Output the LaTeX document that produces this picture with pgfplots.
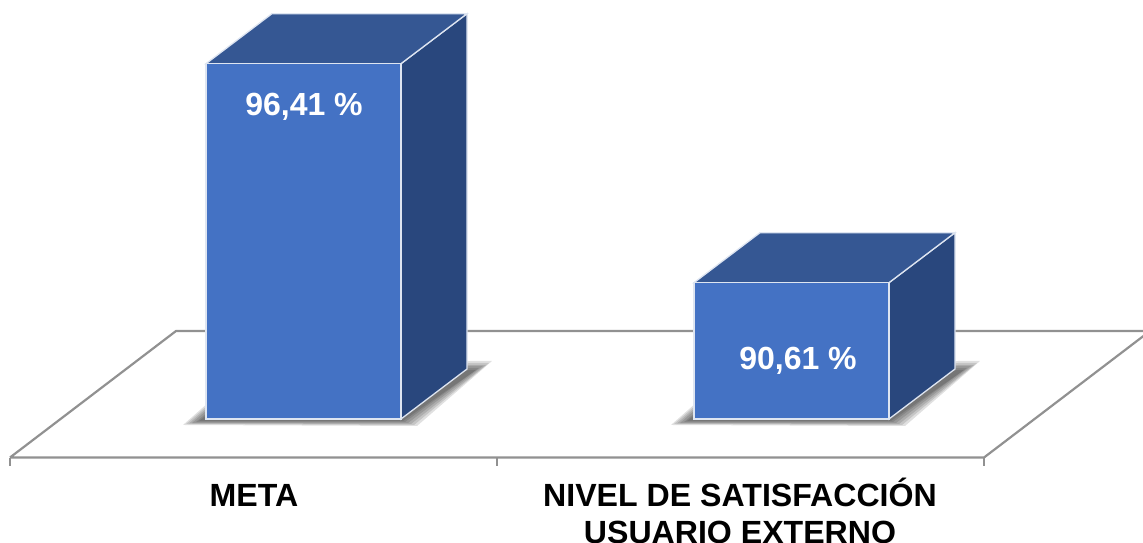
\documentclass[border=0pt]{standalone}
\usepackage{pgfplots}
\pgfplotsset{compat=1.18}
\usepackage{fontspec}
\setmainfont{Liberation Sans}
\definecolor{barfront}{RGB}{68,114,196}
\definecolor{bartop}{RGB}{53,87,147}
\definecolor{barside}{RGB}{41,71,125}
\definecolor{baredge}{RGB}{222,229,241}
\definecolor{floorline}{RGB}{145,145,145}

% Floor of the boxes sits at 87; their depth is 66 horizontally and 1.324 vertically
\pgfplotsset{
  floor/.style={draw=floorline, line width=2.2bp, forget plot},
  face/.style={draw=baredge, line width=1.3bp, line join=miter, forget plot},
  castshadow/.style={draw=none, fill=black, fill opacity=0.12, forget plot,
    y filter/.expression={87+(419-y)/37.76}},
}

% Soft shadow on the floor, built from nested layers (x and distance from top)
\pgfplotstableread{
x y
183 425
208 403
470 361
492 361
417 426
}\shadowA
\pgfplotstableread{
x y
186 424
208 405
470 363
489 363
414 425
}\shadowB
\pgfplotstableread{
x y
189 423.5
208 407
470 365
486 365
411 424
}\shadowC
\pgfplotstableread{
x y
192 423
208 409
470 366
483 366
408 423
}\shadowD
\pgfplotstableread{
x y
196 422
208 412
470 368
479 368
405 422
}\shadowE
\pgfplotstableread{
x y
199 421
208 414
470 370
476 370
403 421
}\shadowF

\begin{document}
\begin{tikzpicture}
\useasboundingbox (0,0) rectangle (1143bp,543bp);
\clip (0,0) rectangle (1143bp,543bp);
\begin{axis}[
  at={(0,0)}, anchor=south west,
  scale only axis, width=1143bp, height=543bp,
  xmin=0, xmax=1143,
  ymin=83.716, ymax=98.096,
  hide axis, clip=false,
]
% Floor outline and category ticks
\addplot[floor] coordinates {(10,85.98) (176,89.33) (1150,89.33) (984,85.98) (10,85.98)};
\addplot[floor, line width=1.6bp] coordinates {(10,85.98) (10,85.75)};
\addplot[floor, line width=1.6bp] coordinates {(497,85.98) (497,85.75)};
\addplot[floor, line width=1.6bp] coordinates {(984,85.98) (984,85.75)};

% Shadows of both boxes
\addplot[castshadow] table {\shadowA} -- cycle;
\addplot[castshadow] table {\shadowB} -- cycle;
\addplot[castshadow] table {\shadowC} -- cycle;
\addplot[castshadow] table {\shadowD} -- cycle;
\addplot[castshadow] table {\shadowE} -- cycle;
\addplot[castshadow] table {\shadowF} -- cycle;
\addplot[castshadow, x filter/.expression={x+488}] table {\shadowA} -- cycle;
\addplot[castshadow, x filter/.expression={x+488}] table {\shadowB} -- cycle;
\addplot[castshadow, x filter/.expression={x+488}] table {\shadowC} -- cycle;
\addplot[castshadow, x filter/.expression={x+488}] table {\shadowD} -- cycle;
\addplot[castshadow, x filter/.expression={x+488}] table {\shadowE} -- cycle;
\addplot[castshadow, x filter/.expression={x+488}] table {\shadowF} -- cycle;

% META: 96.41
\addplot[face, fill=barside] coordinates {(401,87) (467,88.324) (467,97.734) (401,96.41)} -- cycle;
\addplot[face, fill=bartop] coordinates {(206,96.41) (272,97.734) (467,97.734) (401,96.41)} -- cycle;
\addplot[face, fill=barfront] coordinates {(206,87) (401,87) (401,96.41) (206,96.41)} -- cycle;

% NIVEL DE SATISFACCION: 90.61
\addplot[face, fill=barside] coordinates {(889,87) (955,88.324) (955,91.934) (889,90.61)} -- cycle;
\addplot[face, fill=bartop] coordinates {(694,90.61) (760,91.934) (955,91.934) (889,90.61)} -- cycle;
\addplot[face, fill=barfront] coordinates {(694,87) (889,87) (889,90.61) (694,90.61)} -- cycle;

% Value labels
\node[text=white, font=\fontsize{32bp}{36bp}\selectfont\bfseries] at (axis cs:304,95.262) {96,41 \%};
\node[text=white, font=\fontsize{32bp}{36bp}\selectfont\bfseries] at (axis cs:798,88.535) {90,61 \%};

% Category labels
\node[text=black, font=\fontsize{32.1bp}{36bp}\selectfont\bfseries, anchor=base] at (axis cs:254,84.67) {META};
\node[text=black, font=\fontsize{32.1bp}{36bp}\selectfont\bfseries, anchor=base] at (axis cs:740,84.67) {NIVEL DE SATISFACCIÓN};
\node[text=black, font=\fontsize{32.1bp}{36bp}\selectfont\bfseries, anchor=base] at (axis cs:740,83.703) {USUARIO EXTERNO};
\end{axis}
\end{tikzpicture}
\end{document}
